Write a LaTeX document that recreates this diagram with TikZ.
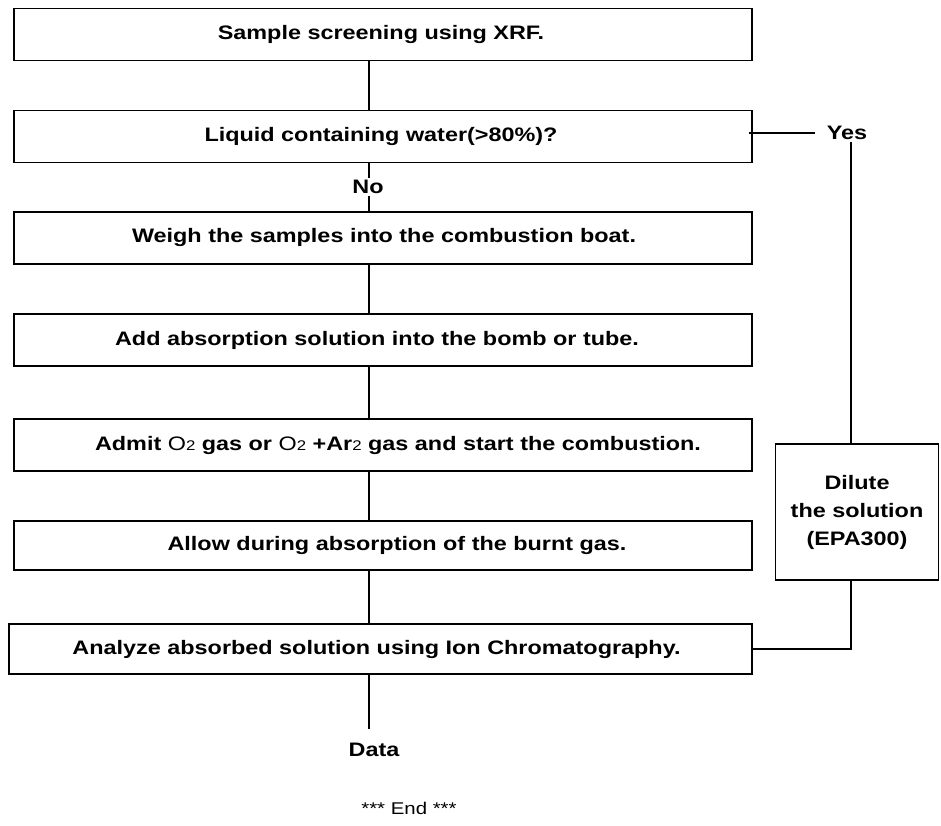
\documentclass[tikz,border=0pt]{standalone}
\usepackage{fontspec}
\setmainfont{Liberation Sans}[FakeStretch=1.2]
\newcommand\oxy{{\mdseries O}}
\newcommand\subtwo{{\mdseries\fontsize{14}{14}\selectfont 2}}
\begin{document}
\begin{tikzpicture}[x=1pt,y=-1pt,
  stepbox/.style={draw, line width=1.6pt, minimum width=738pt, minimum height=52pt, inner sep=0pt,
    font=\bfseries\fontsize{19.5}{23}\selectfont},
  sidebox/.style={draw, line width=1.6pt, minimum width=163pt, minimum height=136pt, inner sep=0pt,
    align=center, font=\bfseries\fontsize{19.5}{28}\selectfont},
  lbl/.style={inner sep=2pt, font=\bfseries\fontsize{19.5}{23}\selectfont},
  conn/.style={line width=1.3pt}]
\useasboundingbox[fill=white] (0,0) rectangle (941,826);
\coordinate (spine) at (369,0);
\coordinate (rail) at (851,0);

\node[stepbox] (b1) at (383,34.5) {\hspace*{-4pt}Sample screening using XRF.};
\node[stepbox] (b2) at (383,136.5) {\hspace*{-4pt}Liquid containing water(>80\%)?};
\node[stepbox] (b3) at (383,238) {\hspace*{2pt}Weigh the samples into the combustion boat.};
\node[stepbox] (b4) at (383,340) {\hspace*{-12pt}Add absorption solution into the bomb or tube.};
\node[stepbox] (b5) at (383,445) {\hspace*{30pt}Admit \oxy\subtwo{} gas or \oxy\subtwo{} +Ar\subtwo{} gas and start the combustion.};
\node[stepbox, minimum height=49pt] (b6) at (383,545.5) {\hspace*{28pt}Allow during absorption of the burnt gas.};
\node[stepbox, minimum width=743pt, minimum height=50pt] (b7) at (380.5,649) {\hspace*{-8pt}Analyze absorbed solution using Ion Chromatography.};
\node[sidebox] (dil) at (857,512) {Dilute\\the solution\\(EPA300)};

\node[lbl] (no) at (368,187) {No};
\node[lbl] (yes) at (847,133) {Yes};
\node[lbl] (data) at (374,750) {Data};
\node[inner sep=2pt, font=\fontsize{17}{20}\selectfont] (end) at (409,808) {*** End ***};

\draw[conn] (b1.south -| spine) -- (b2.north -| spine);
\draw[conn] (b2.south -| spine) -- (no.north -| spine);
\draw[conn] (no.south -| spine) -- (b3.north -| spine);
\draw[conn] (b3.south -| spine) -- (b4.north -| spine);
\draw[conn] (b4.south -| spine) -- (b5.north -| spine);
\draw[conn] (b5.south -| spine) -- (b6.north -| spine);
\draw[conn] (b6.south -| spine) -- (b7.north -| spine);
\draw[conn, shorten >=12pt] (b7.south -| spine) -- (data.north -| spine);
\draw[conn, shorten <=-4pt, shorten >=10pt] (b2.east |- yes.west) -- (yes.west);
\draw[conn] (yes.south -| rail) -- (dil.north -| rail);
\draw[conn] (dil.south -| rail) -- (b7.east -| rail) -- (b7.east);
\end{tikzpicture}
\end{document}
